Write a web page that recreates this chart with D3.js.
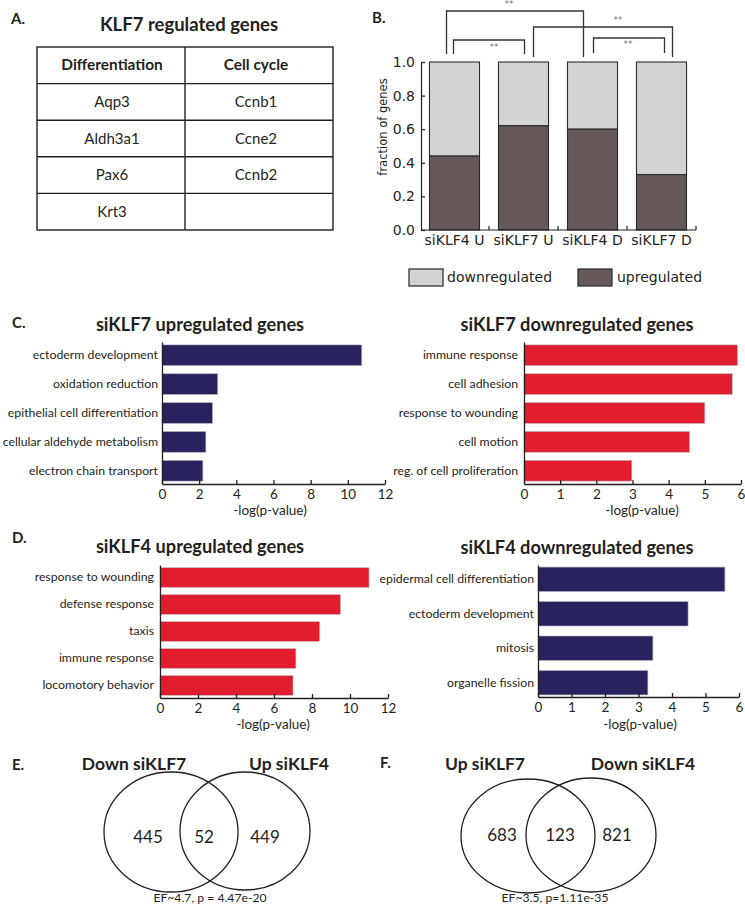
<!DOCTYPE html>
<html><head><meta charset="utf-8">
<script src="https://cdn.jsdelivr.net/npm/d3@7"></script>
<style>body{margin:0;background:#fff} svg{display:block}</style>
</head><body>
<svg id="fig" width="745" height="907"></svg>
<script>
// ---------------- DATA ----------------
const tableTitle = "KLF7 regulated genes";
const tableHeaders = ["Differentiation", "Cell cycle"];
const differentiationGenes = ["Aqp3", "Aldh3a1", "Pax6", "Krt3"];
const cellCycleGenes = ["Ccnb1", "Ccne2", "Ccnb2", ""];

const fracCategories = ["siKLF4 U", "siKLF7 U", "siKLF4 D", "siKLF7 D"];
const upregulatedFrac = [0.44, 0.62, 0.60, 0.33];
const downregulatedFrac = [0.56, 0.38, 0.40, 0.67];
const fracTicks = [0, 0.2, 0.4, 0.6, 0.8, 1.0];
const sigPairs = [[0, 2], [0, 1], [1, 3], [2, 3]];
const sigLabels = ["**", "**", "**", "**"];
const legendLabels = ["downregulated", "upregulated"];

const c7UpTerms = ["ectoderm development", "oxidation reduction", "epithelial cell differentiation", "cellular aldehyde metabolism", "electron chain transport"];
const c7UpValues = [10.75, 3.0, 2.72, 2.36, 2.2];
const c7DownTerms = ["immune response", "cell adhesion", "response to wounding", "cell motion", "reg. of cell proliferation"];
const c7DownValues = [5.9, 5.76, 5.0, 4.58, 2.98];
const c4UpTerms = ["response to wounding", "defense response", "taxis", "immune response", "locomotory behavior"];
const c4UpValues = [11.0, 9.5, 8.4, 7.15, 7.0];
const c4DownTerms = ["epidermal cell differentiation", "ectoderm development", "mitosis", "organelle fission"];
const c4DownValues = [5.58, 4.48, 3.43, 3.28];
const ticks12 = [0, 2, 4, 6, 8, 10, 12];
const ticks6 = [0, 1, 2, 3, 4, 5, 6];
const xAxisTitle = "-log(p-value)";

const vennESets = ["Down siKLF7", "Up siKLF4"];
const vennECounts = [445, 52, 449];
const vennECaption = "EF~4.7, p = 4.47e-20";
const vennFSets = ["Up siKLF7", "Down siKLF4"];
const vennFCounts = [683, 123, 821];
const vennFCaption = "EF~3.5, p=1.11e-35";

// ---------------- STYLE ----------------
const INK = "#231f20";
const NAVY = "#28235f";
const RED = "#e11d2e";
const LIGHT = "#d3d3d5";
const DARK = "#645859";
const SANS = "Lato, 'Open Sans', sans-serif";
const WIDE = "'DejaVu Sans', sans-serif";

const svg = d3.select("#fig");

function panelLetter(txt, x, y) {
  svg.append("text").attr("x", x).attr("y", y).text(txt)
    .attr("font-family", SANS).attr("font-weight", 700).attr("font-size", 15).attr("fill", INK);
}

// ---------------- A: table ----------------
panelLetter("A.", 11, 24);
svg.append("text").attr("x", 189).attr("y", 31).attr("text-anchor", "middle")
  .attr("font-family", SANS).attr("font-weight", 700).attr("font-size", 18.5).attr("fill", INK).text(tableTitle);
{
  const rows = [tableHeaders].concat(differentiationGenes.map((g, i) => [g, cellCycleGenes[i]]));
  const ty = d3.scaleBand().domain(d3.range(rows.length)).range([47, 230]);
  const tx = d3.scaleBand().domain([0, 1]).range([37, 333]);
  const tg = svg.append("g");
  tg.append("rect").attr("x", 37).attr("y", 47).attr("width", 296).attr("height", 183)
    .attr("fill", "none").attr("stroke", INK).attr("stroke-width", 1.4);
  d3.range(1, rows.length).forEach(i => tg.append("line").attr("x1", 37).attr("x2", 333)
    .attr("y1", ty(i)).attr("y2", ty(i)).attr("stroke", INK).attr("stroke-width", 1.4));
  tg.append("line").attr("x1", tx(1)).attr("x2", tx(1)).attr("y1", 47).attr("y2", 230)
    .attr("stroke", INK).attr("stroke-width", 1.4);
  const colCx = [112, 256];
  rows.forEach((r, i) => r.forEach((c, j) => {
    tg.append("text").attr("x", colCx[j]).attr("y", ty(i) + ty.bandwidth() / 2 + 5)
      .attr("text-anchor", "middle").attr("font-family", SANS)
      .attr("font-weight", i === 0 ? 700 : 400).attr("font-size", i === 0 ? 15.4 : 15)
      .attr("fill", INK).text(c);
  }));
}

// ---------------- B: stacked fraction bars ----------------
panelLetter("B.", 372, 23);
{
  const g = svg.append("g");
  const x = d3.scaleBand().domain(fracCategories).range([421, 695]).paddingInner(0.275).paddingOuter(0.123);
  const y = d3.scaleLinear().domain([0, 1]).range([230, 62]);
  const bw = x.bandwidth();
  fracCategories.forEach((c, i) => {
    g.append("rect").attr("x", x(c)).attr("y", y(1)).attr("width", bw)
      .attr("height", y(0) - y(1) - (y(0) - y(upregulatedFrac[i]))).attr("fill", LIGHT).attr("stroke", "#2b2b2b").attr("stroke-width", 1.1);
    g.append("rect").attr("x", x(c)).attr("y", y(upregulatedFrac[i])).attr("width", bw)
      .attr("height", y(0) - y(upregulatedFrac[i])).attr("fill", DARK).attr("stroke", "#2b2b2b").attr("stroke-width", 1.1);
  });
  // y axis
  const ya = g.append("g").attr("transform", "translate(421,0)")
    .call(d3.axisLeft(y).tickValues(fracTicks).tickFormat(d3.format(".1f")).tickSize(-4).tickSizeOuter(0).tickPadding(6));
  ya.selectAll("text").attr("font-family", WIDE).attr("font-size", 14).attr("fill", INK);
  ya.selectAll("line,path").attr("stroke", INK).attr("stroke-width", 1.2);
  // x axis with ticks at band boundaries
  const bounds = fracCategories.map(c => x(c) + bw + (x.step() - bw) / 2);
  g.append("line").attr("x1", 421).attr("x2", bounds[bounds.length - 1]).attr("y1", y(0)).attr("y2", y(0))
    .attr("stroke", INK).attr("stroke-width", 1.2);
  bounds.forEach(b => g.append("line").attr("x1", b).attr("x2", b).attr("y1", y(0)).attr("y2", y(0) - 4)
    .attr("stroke", INK).attr("stroke-width", 1.2));
  fracCategories.forEach(c => g.append("text").attr("x", x(c) + bw / 2).attr("y", 245)
    .attr("text-anchor", "middle").attr("font-family", WIDE).attr("font-size", 14).attr("fill", INK).text(c));
  g.append("text").attr("transform", "translate(387,127) rotate(-90)").attr("text-anchor", "middle")
    .attr("font-family", WIDE).attr("font-size", 11.5).attr("fill", INK).text("fraction of genes");
  // significance brackets (layout: top y, leg offsets, leg bottoms, label position)
  const brTop = [11, 40, 27, 38];
  const brDx = [[-8, -9], [-1, 1], [10, 11], [1, 3]];
  const brBottom = [[54, 57], [54, 54], [57, 57], [53, 53]];
  const brLbl = [[-6, 7], [5, 50], [15, 23], [-1, 47]];
  sigPairs.forEach((p, k) => {
    const xa = x(fracCategories[p[0]]) + bw / 2 + brDx[k][0];
    const xb = x(fracCategories[p[1]]) + bw / 2 + brDx[k][1];
    g.append("path").attr("d", `M${xa},${brBottom[k][0]}V${brTop[k]}H${xb}V${brBottom[k][1]}`)
      .attr("fill", "none").attr("stroke", "#333").attr("stroke-width", 1.3);
    g.append("text").attr("x", (xa + xb) / 2 + brLbl[k][0]).attr("y", brLbl[k][1])
      .attr("text-anchor", "middle").attr("font-family", WIDE).attr("font-size", 9).attr("fill", "#777")
      .text(sigLabels[k]);
  });
  // legend
  const lg = g.append("g");
  const legX = [409, 578], legTX = [447, 617];
  [LIGHT, DARK].forEach((col, i) => {
    lg.append("rect").attr("x", legX[i]).attr("y", 269).attr("width", 34).attr("height", 17)
      .attr("fill", col).attr("stroke", "#333").attr("stroke-width", 1.3);
    lg.append("text").attr("x", legTX[i]).attr("y", 282).attr("font-family", WIDE).attr("font-size", 14)
      .attr("fill", INK).text(legendLabels[i]);
  });
}

// ---------------- C/D: horizontal bar panels ----------------
function hbar(terms, values, ticks, color, cfg) {
  const g = svg.append("g");
  const x = d3.scaleLinear().domain([0, ticks[ticks.length - 1]]).range([cfg.x0, cfg.x1]);
  const y = d3.scaleBand().domain(terms).range([cfg.y0, cfg.y1]).paddingInner(cfg.pi).paddingOuter(cfg.po);
  g.selectAll("rect").data(terms).join("rect")
    .attr("x", x(0)).attr("y", d => y(d)).attr("width", (d, i) => x(values[i]) - x(0))
    .attr("height", y.bandwidth()).attr("fill", color).attr("stroke", "#b9b9c4").attr("stroke-width", 0.6);
  const xa = g.append("g").attr("transform", `translate(0,${cfg.y1})`)
    .call(d3.axisBottom(x).tickValues(ticks).tickFormat(d3.format("d")).tickSize(-4).tickSizeOuter(0).tickPadding(cfg.tp));
  xa.selectAll("text").attr("font-family", SANS).attr("font-size", 13.5).attr("fill", INK);
  xa.selectAll("line,path").attr("stroke", INK).attr("stroke-width", 1.3);
  const ya = g.append("g").attr("transform", `translate(${cfg.x0},0)`)
    .call(d3.axisLeft(y).tickSize(0).tickSizeOuter(0).tickPadding(cfg.lp));
  ya.selectAll("text").attr("font-family", SANS).attr("font-size", 12.3).attr("fill", INK);
  ya.selectAll("path").attr("stroke", INK).attr("stroke-width", 1.3);
  g.append("text").attr("x", cfg.lx).attr("y", cfg.ly).attr("text-anchor", "middle")
    .attr("font-family", SANS).attr("font-size", 13.5).attr("fill", INK).text(xAxisTitle);
  g.append("text").attr("x", cfg.tx).attr("y", cfg.ty).attr("text-anchor", "middle")
    .attr("font-family", SANS).attr("font-weight", 700).attr("font-size", 18.2).attr("fill", INK).text(cfg.title);
}

panelLetter("C.", 12, 328);
hbar(c7UpTerms, c7UpValues, ticks12, NAVY,
  {x0: 162, x1: 385, y0: 342, y1: 484, pi: 0.28, po: 0.1, tp: 5, lp: 4, lx: 270, ly: 515, tx: 200, ty: 331, title: "siKLF7 upregulated genes"});
hbar(c7DownTerms, c7DownValues, ticks6, RED,
  {x0: 524, x1: 741, y0: 342, y1: 484, pi: 0.28, po: 0.1, tp: 5, lp: 6, lx: 642, ly: 515, tx: 577, ty: 331, title: "siKLF7 downregulated genes"});
panelLetter("D.", 12, 543);
hbar(c4UpTerms, c4UpValues, ticks12, RED,
  {x0: 160, x1: 388, y0: 565, y1: 698, pi: 0.27, po: 0.1, tp: 5, lp: 6, lx: 273, ly: 729, tx: 200, ty: 553, title: "siKLF4 upregulated genes"});
hbar(c4DownTerms, c4DownValues, ticks6, NAVY,
  {x0: 538, x1: 739, y0: 565, y1: 697, pi: 0.29, po: 0.06, tp: 5, lp: 4, lx: 640, ly: 729, tx: 577, ty: 554, title: "siKLF4 downregulated genes"});

// ---------------- E/F: Venn diagrams ----------------
function venn(sets, counts, caption, cfg) {
  const g = svg.append("g");
  cfg.ell.forEach(e => g.append("ellipse").attr("cx", e[0]).attr("cy", e[1]).attr("rx", e[2]).attr("ry", e[3])
    .attr("fill", "none").attr("stroke", INK).attr("stroke-width", 1.3));
  sets.forEach((s, i) => g.append("text").attr("x", cfg.setX[i]).attr("y", cfg.setY).attr("text-anchor", "middle")
    .attr("font-family", SANS).attr("font-weight", 700).attr("font-size", 17.5).attr("fill", INK).text(s));
  counts.forEach((c, i) => g.append("text").attr("x", cfg.numX[i]).attr("y", cfg.numY).attr("text-anchor", "middle")
    .attr("font-family", SANS).attr("font-size", 17).attr("fill", INK).text(c));
  g.append("text").attr("x", cfg.capX).attr("y", 902).attr("text-anchor", "middle")
    .attr("font-family", SANS).attr("font-size", 12.2).attr("fill", INK).text(caption);
}
panelLetter("E.", 12, 770);
venn(vennESets, vennECounts, vennECaption,
  {ell: [[171, 832, 67, 60], [245, 831, 65, 59]], setX: [134, 289], setY: 770, numX: [148, 204, 265], numY: 843, capX: 210});
panelLetter("F.", 380, 768);
venn(vennFSets, vennFCounts, vennFCaption,
  {ell: [[528, 836, 67, 57], [591, 835, 65, 57]], setX: [485, 643], setY: 770, numX: [502, 560, 617], numY: 841, capX: 555});
</script>
</body></html>
